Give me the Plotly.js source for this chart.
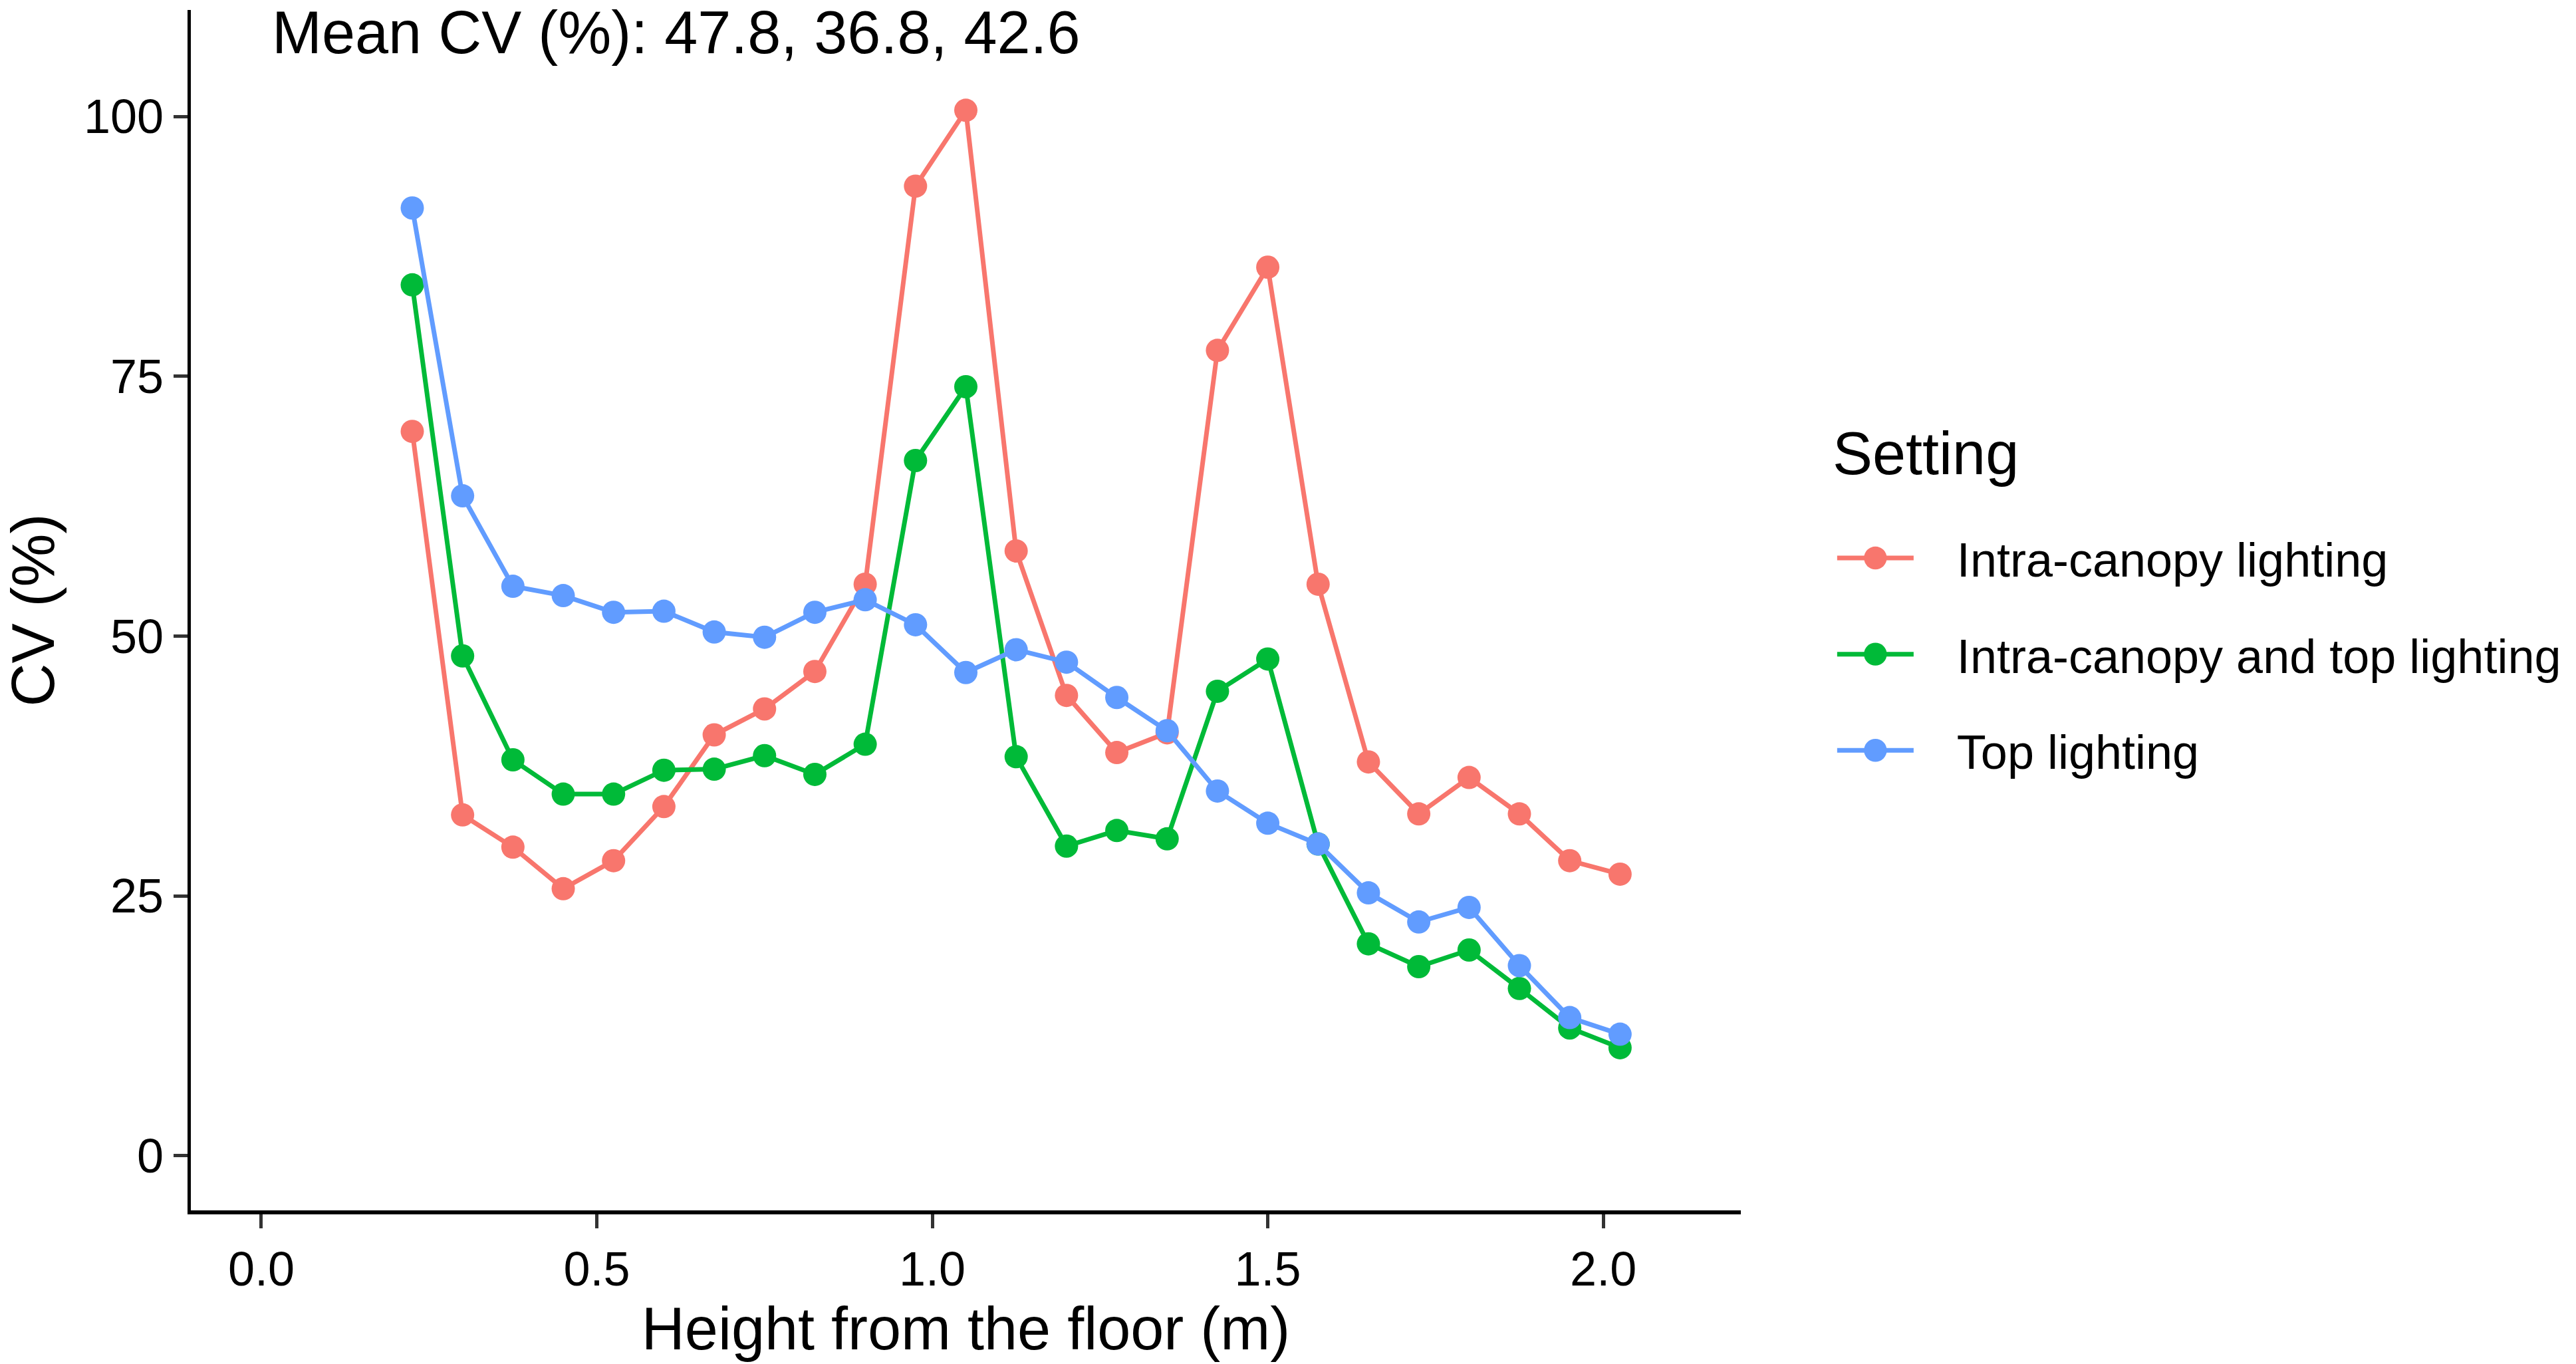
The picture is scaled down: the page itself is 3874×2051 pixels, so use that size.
<!DOCTYPE html>
<html>
<head>
<meta charset="utf-8">
<script src="https://cdn.plot.ly/plotly-3.0.1.min.js"></script>
<style>
  html, body { margin: 0; padding: 0; background: #ffffff; }
  #chart { width: 3874px; height: 2051px; }
</style>
</head>
<body>
<div id="chart"></div>
<script>
// heights (m) where CV was measured
const heights = [0.225, 0.300, 0.375, 0.450, 0.525, 0.600, 0.675, 0.750, 0.825, 0.900,
                 0.975, 1.050, 1.125, 1.200, 1.275, 1.350, 1.425, 1.500, 1.575, 1.650,
                 1.725, 1.800, 1.875, 1.950, 2.025];

// CV (%) per setting
const intraCanopy = [69.7, 32.8, 29.7, 25.7, 28.4, 33.6, 40.5, 43.0, 46.6, 55.0,
                     93.3, 100.6, 58.2, 44.3, 38.8, 40.7, 77.5, 85.5, 55.0, 37.9,
                     32.9, 36.4, 32.9, 28.4, 27.1];
const intraAndTop = [83.8, 48.1, 38.1, 34.8, 34.8, 37.1, 37.2, 38.5, 36.7, 39.6,
                     66.9, 74.0, 38.4, 29.8, 31.3, 30.5, 44.7, 47.8, 30.0, 20.4,
                     18.2, 19.8, 16.1, 12.3, 10.4];
const topLighting = [91.2, 63.5, 54.8, 53.9, 52.3, 52.4, 50.4, 49.9, 52.3, 53.5,
                     51.1, 46.5, 48.7, 47.5, 44.1, 40.9, 35.1, 32.0, 30.0, 25.3,
                     22.5, 23.9, 18.3, 13.3, 11.7];

const settingNames = ['Intra-canopy lighting', 'Intra-canopy and top lighting', 'Top lighting'];
const settingColors = ['#F8766D', '#00BA38', '#619CFF'];
const xTicks = [0, 0.5, 1.0, 1.5, 2.0];
const yTicks = [0, 25, 50, 75, 100];

const FONT = 'Liberation Sans, Arial, Helvetica, sans-serif';
const series = [intraCanopy, intraAndTop, topLighting];
const NBSP = '\u00A0\u00A0\u00A0'; // wider gap between key and label, like ggplot

const mean = arr => arr.reduce((a, b) => a + b, 0) / arr.length;
const meanText = 'Mean CV (%): ' + series.map(s => mean(s).toFixed(1)).join(', ');

const traces = series.map((vals, i) => ({
  x: heights,
  y: vals,
  type: 'scatter',
  mode: 'lines+markers',
  name: NBSP + settingNames[i],
  legendgroup: 'g' + i,
  line: { color: settingColors[i], width: 7 },
  marker: { color: settingColors[i], size: 35 }
}));

const axisBase = {
  showgrid: false,
  zeroline: false,
  showline: true,
  linecolor: '#000000',
  linewidth: 5.5,
  ticks: 'outside',
  ticklen: 21,
  tickwidth: 5,
  tickcolor: '#333333',
  tickfont: { family: FONT, size: 72, color: '#000000' },
  title: { font: { family: FONT, size: 90, color: '#000000' } }
};

const layout = {
  width: 3874,
  height: 2051,
  paper_bgcolor: '#ffffff',
  plot_bgcolor: '#ffffff',
  font: { family: FONT, color: '#000000' },
  margin: { l: 287, r: 1256, t: 15, b: 231 },
  showlegend: true,
  xaxis: {
    ...axisBase,
    range: [-0.105, 2.205],
    tickvals: xTicks,
    tickformat: '.1f',
    title: { ...axisBase.title, text: 'Height from the floor (m)', standoff: 4 }
  },
  yaxis: {
    ...axisBase,
    range: [-5.25, 110.25],
    tickvals: yTicks,
    title: { ...axisBase.title, text: 'CV (%)', standoff: 29 }
  },
  legend: {
    x: 1.06, xanchor: 'left',
    y: 0.573, yanchor: 'top',
    traceorder: 'grouped',
    tracegroupgap: 48,
    itemwidth: 115,
    bgcolor: 'rgba(0,0,0,0)',
    font: { family: FONT, size: 72, color: '#000000' }
  },
  annotations: [
    {
      text: meanText,
      xref: 'x', yref: 'y',
      x: 0.0135, y: 108.1,
      xanchor: 'left', yanchor: 'middle',
      showarrow: false,
      font: { family: FONT, size: 90, color: '#000000' }
    },
    {
      // legend title
      text: 'Setting',
      xref: 'paper', yref: 'paper',
      x: 1.0584, y: 0.6307,
      xanchor: 'left', yanchor: 'middle',
      showarrow: false,
      font: { family: FONT, size: 90, color: '#000000' }
    }
  ]
};

Plotly.newPlot('chart', traces, layout, { displayModeBar: false, staticPlot: true }).then(gd => {
  // legend keys are capped at 16px by plotly; grow them to match the plot points
  gd.querySelectorAll('.legend .legendpoints path').forEach(p => {
    const t = p.getAttribute('transform') || '';
    p.setAttribute('transform', t + ' scale(2.15)');
  });
});
</script>
</body>
</html>
